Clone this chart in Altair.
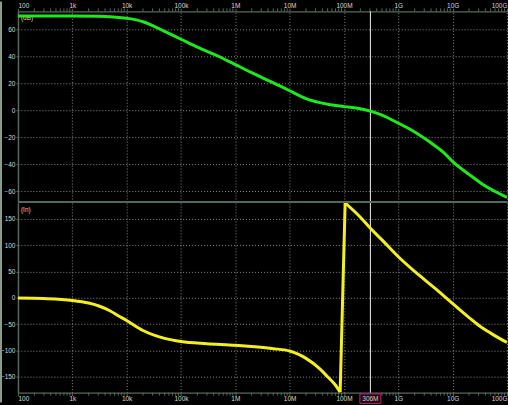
import altair as alt
import pandas as pd

# ---- open-loop response: gain (dB) vs frequency (Hz)
mag_freq = [100, 1e3, 3e3, 5e3, 1e4, 1.5e4, 2e4, 3e4, 5e4, 1e5, 2e5, 5e5, 1e6,
            2e6, 5e6, 1e7, 2e7, 5e7, 1e8, 2e8, 3.06e8, 5e8, 1e9, 2e9, 3.8e9,
            6.7e9, 1e10, 2e10, 3.6e10, 1e11]
mag_db = [70, 70, 69.9, 69.6, 68.4, 67.2, 65.8, 63.0, 58.6, 52.8, 47, 40, 34,
          28, 20.5, 14.6, 8.8, 4.6, 2.8, 1.2, -0.5, -3.5, -9.5, -16, -23.5,
          -31, -38, -47.5, -55, -64.5]

# ---- phase (deg) vs frequency (Hz), wrapped to +/-180;
# branch 0 runs down to -180, branch 1 is the wrap, branch 2 restarts at +180
phase_freq = [100, 300, 1e3, 2e3, 3e3, 5e3, 7e3, 1e4, 2e4, 5e4, 1e5, 3e5, 1e6,
              2e6, 5e6, 1e7, 1.5e7, 2e7, 3.6e7, 5e7, 7e7, 8.5e7,
              8.5e7, 1.05e8,
              1.05e8, 2e8, 3.06e8, 5e8, 1e9, 2e9, 5e9, 1e10, 2e10, 3e10,
              5e10, 7e10, 1e11]
phase_deg = [-0.5, -1.5, -5, -10, -15, -25, -34, -43, -62, -77, -83, -87, -90,
             -92.5, -96.5, -101, -108, -115, -135, -150, -166, -179,
             -179, 180,
             180, 153, 132, 110, 78, 50, 16, -11, -37.5, -52,
             -67, -76, -84.5]
phase_branch = [0] * 22 + [1] * 2 + [2] * 13

# ---- axis ticks
decade_vals = [100, 1e3, 1e4, 1e5, 1e6, 1e7, 1e8, 1e9, 1e10, 1e11]
decade_labels = ["100", "1k", "10k", "100k", "1M", "10M", "100M", "1G", "10G", "100G"]
db_ticks = [-60, -40, -20, 0, 20, 40, 60]
deg_ticks = [-150, -100, -50, 0, 50, 100, 150]

cursor_freq = [3.06e8]
cursor_text = ["306M"]

minor_freqs = [k * 10 ** d for d in range(2, 11) for k in range(2, 10)]

W, H_TOP, H_BOT = 490, 191, 190
FRAME = "#56685a"
GRID = "#8a8a8a"
LABEL = "#d6d6d6"
FONT = "Liberation Sans"
FS = 6.5

mag_df = pd.DataFrame({"f": mag_freq, "v": mag_db, "b": 0})
ph_df = pd.DataFrame({"f": phase_freq, "v": phase_deg, "b": phase_branch})
minor_df = pd.DataFrame({"f": minor_freqs})
cur_df = pd.DataFrame({"f": cursor_freq, "t": cursor_text})

label_expr = " : ".join(
    f"datum.value == {v:g} ? '{t}'" for v, t in zip(decade_vals, decade_labels)
) + " : ''"

xscale = alt.Scale(type="log", domain=[100, 1e11], nice=False)


def x_enc(orient):
    return alt.X(
        "f:Q",
        scale=xscale,
        axis=alt.Axis(
            orient=orient, values=decade_vals, labelExpr=label_expr, title=None,
            grid=True, gridDash=[1, 2], gridColor=GRID, gridWidth=1,
            domainColor=FRAME, domainWidth=1.5, tickColor=FRAME, tickSize=3,
            labelFontSize=FS, labelColor=LABEL, labelPadding=0, labelFont=FONT,
            labelFlush=True,
        ),
    )


def y_enc(domain, ticks):
    return alt.Y(
        "v:Q",
        scale=alt.Scale(domain=domain, nice=False, zero=False),
        axis=alt.Axis(
            values=ticks, title=None, grid=True, gridDash=[1, 2], gridColor=GRID,
            domainColor=FRAME, domainWidth=1.5, tickColor=FRAME, tickSize=2,
            labelFontSize=FS, labelColor=LABEL, labelPadding=1, labelFont=FONT,
        ),
    )


def panel(df, color, domain, ticks, orient, unit, h, tick_y, border_y):
    line = alt.Chart(df).mark_line(
        color=color, strokeWidth=3, interpolate="monotone", clip=True,
        strokeJoin="miter",
    ).encode(x=x_enc(orient), y=y_enc(domain, ticks), detail="b:N", order="f:Q")

    unit_lbl = alt.Chart(pd.DataFrame({"t": [unit]})).mark_text(
        align="left", baseline="middle", fontSize=FS, color=LABEL, font=FONT
    ).encode(x=alt.value(3), y=alt.value(7), text="t:N")

    minor = alt.Chart(minor_df).mark_rule(color=FRAME, strokeWidth=1).encode(
        x=alt.X("f:Q", scale=xscale), y=alt.value(tick_y[0]), y2=alt.value(tick_y[1])
    )

    cursor = alt.Chart(cur_df).mark_rule(color="#f2f2f2", strokeWidth=1).encode(
        x=alt.X("f:Q", scale=xscale), y=alt.value(0), y2=alt.value(h)
    )

    # outer frame edge on the far left
    border = alt.Chart(cur_df).mark_rule(color="#8c9c8c", strokeWidth=2).encode(
        x=alt.value(-17), y=alt.value(border_y[0]), y2=alt.value(border_y[1])
    )

    return alt.layer(unit_lbl, minor, cursor, border, line).properties(
        width=W, height=h
    )


top = panel(mag_df, "#1ee81e", [-68, 73.5], db_ticks, "top", "(dB)", H_TOP,
            (-3, 0), (-10, H_TOP + 1))

# separator between the two panels
sep = alt.Chart(cur_df).mark_rule(color=FRAME, strokeWidth=2).encode(
    x=alt.value(0), x2=alt.value(W), y=alt.value(H_TOP)
)
top = alt.layer(top, sep)

bot = panel(ph_df, "#f4f020", [-180, 180], deg_ticks, "bottom", "(In)", H_BOT,
            (H_BOT, H_BOT + 3), (-1, H_BOT + 10))

# cursor frequency readout under the phase panel
badge = alt.Chart(cur_df).mark_point(
    shape="M-1,-0.45L1,-0.45L1,0.45L-1,0.45Z", filled=True, fill="#1c0614",
    stroke="#b02a6a", strokeWidth=1, size=441, opacity=1,
).encode(x=alt.X("f:Q", scale=xscale), y=alt.value(H_BOT + 6))

badge_txt = alt.Chart(cur_df).mark_text(
    fontSize=FS, color="#e6c6d6", font=FONT, baseline="middle"
).encode(x=alt.X("f:Q", scale=xscale), y=alt.value(H_BOT + 6), text="t:N")

bot = alt.layer(bot, badge, badge_txt)

chart = alt.vconcat(top, bot, spacing=1, bounds="flush").properties(
    padding=0,
    background="black",
).configure_view(strokeWidth=0, fill="black")

chart.save("out.html", embed_options={"renderer": "svg", "actions": False})
